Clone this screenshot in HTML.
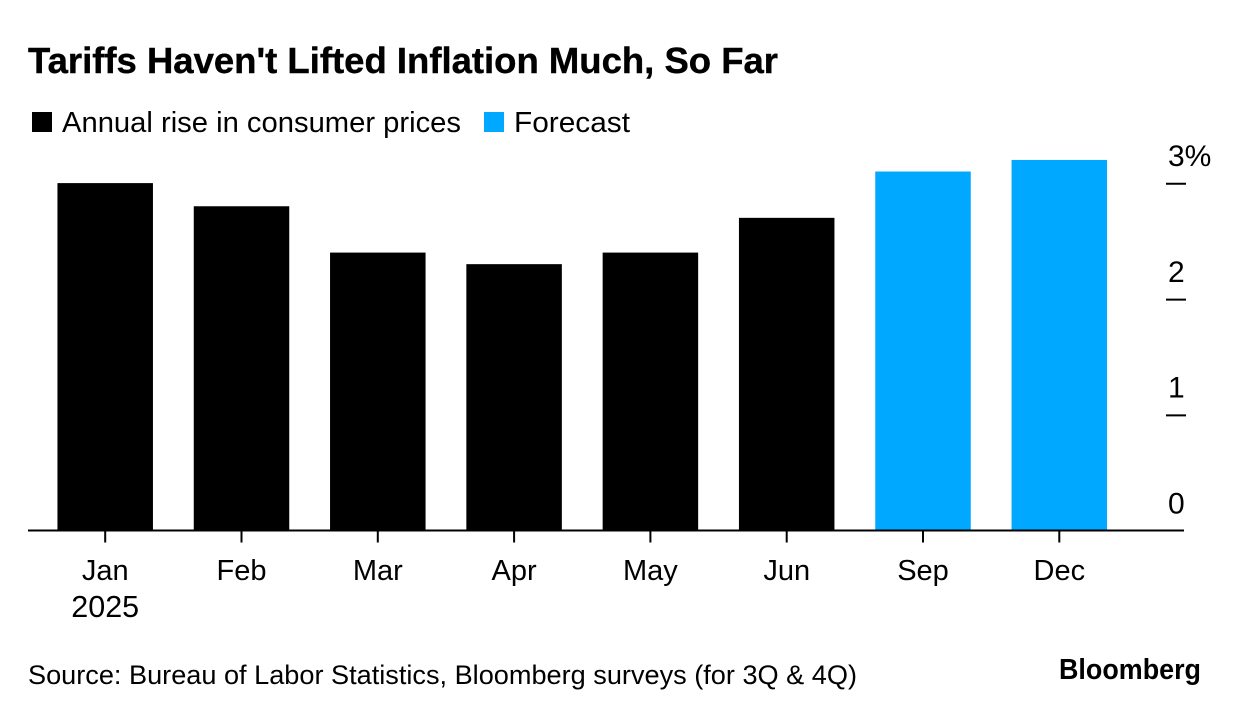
<!DOCTYPE html>
<html>
<head>
<meta charset="utf-8">
<style>
html,body{margin:0;padding:0;background:#fff;width:1240px;height:716px;overflow:hidden}
svg{display:block}
text{font-family:"Liberation Sans",sans-serif;fill:#000}
</style>
</head>
<body>
<svg id="chart" width="1240" height="716" viewBox="0 0 1240 716" xmlns="http://www.w3.org/2000/svg">
  <text x="28" y="73" font-size="36" font-weight="700" stroke="#000" stroke-width="0.4" textLength="750" lengthAdjust="spacingAndGlyphs">Tariffs Haven't Lifted Inflation Much, So Far</text>
  <rect x="32" y="112" width="20" height="20" fill="#000"/>
  <text x="62" y="132" font-size="29" textLength="399" lengthAdjust="spacingAndGlyphs">Annual rise in consumer prices</text>
  <rect x="484" y="112" width="20" height="20" fill="#00a9ff"/>
  <text x="514" y="132" font-size="29" textLength="116" lengthAdjust="spacingAndGlyphs">Forecast</text>
  <g id="bars"></g>
  <g id="axes"></g>
  <text x="28" y="684" font-size="26.5" textLength="829" lengthAdjust="spacingAndGlyphs">Source: Bureau of Labor Statistics, Bloomberg surveys (for 3Q &amp; 4Q)</text>
  <text x="1059" y="679" font-size="29" font-weight="700" textLength="142" lengthAdjust="spacingAndGlyphs">Bloomberg</text>
</svg>
<script>
const categories = ['Jan', 'Feb', 'Mar', 'Apr', 'May', 'Jun', 'Sep', 'Dec'];
const values = [3.0, 2.8, 2.4, 2.3, 2.4, 2.7, 3.1, 3.2];
const isForecast = [false, false, false, false, false, false, true, true];
const yTicks = [0, 1, 2, 3];
const yTickLabels = ['0', '1', '2', '3%'];
const yearLabel = '2025';

const NS = 'http://www.w3.org/2000/svg';
const baseY = 530.5, unit = 115.8, firstX = 105.2, step = 136.3, barW = 95.5;
const xScale = i => firstX + i * step;
const yScale = v => baseY - v * unit;

function mk(parent, tag, attrs, text) {
  const el = document.createElementNS(NS, tag);
  for (const k in attrs) el.setAttribute(k, attrs[k]);
  if (text !== undefined) el.textContent = text;
  parent.appendChild(el);
  return el;
}

const barsG = document.getElementById('bars');
const axesG = document.getElementById('axes');

values.forEach((v, i) => {
  const bar = mk(barsG, 'rect', {
    x: xScale(i) - barW / 2,
    y: yScale(v),
    width: barW,
    height: baseY - yScale(v),
    fill: isForecast[i] ? '#00a9ff' : '#000'
  });
  
  
});

const axis = mk(axesG, 'line', {x1: 28, x2: 1184, y1: baseY, y2: baseY, stroke: '#000', 'stroke-width': 2});



categories.forEach((c, i) => {
  const tick = mk(axesG, 'line', {x1: xScale(i), x2: xScale(i), y1: baseY, y2: baseY + 12, stroke: '#000', 'stroke-width': 2});
  
  
  const label = mk(axesG, 'text', {x: xScale(i), y: 580, 'font-size': 29, 'text-anchor': 'middle'}, c);
  
  
});

const year = mk(axesG, 'text', {x: xScale(0), y: 617, 'font-size': 30.5, 'text-anchor': 'middle'}, yearLabel);



yTicks.forEach((t, i) => {
  if (t !== 0) {
    const tick = mk(axesG, 'line', {x1: 1166, x2: 1186, y1: yScale(t) + 0.7, y2: yScale(t) + 0.7, stroke: '#000', 'stroke-width': 2});
    
    
  }
  const label = mk(axesG, 'text', {x: 1168, y: yScale(t) - 17, 'font-size': 30}, yTickLabels[i]);
  
  
});
</script>
</body>
</html>
